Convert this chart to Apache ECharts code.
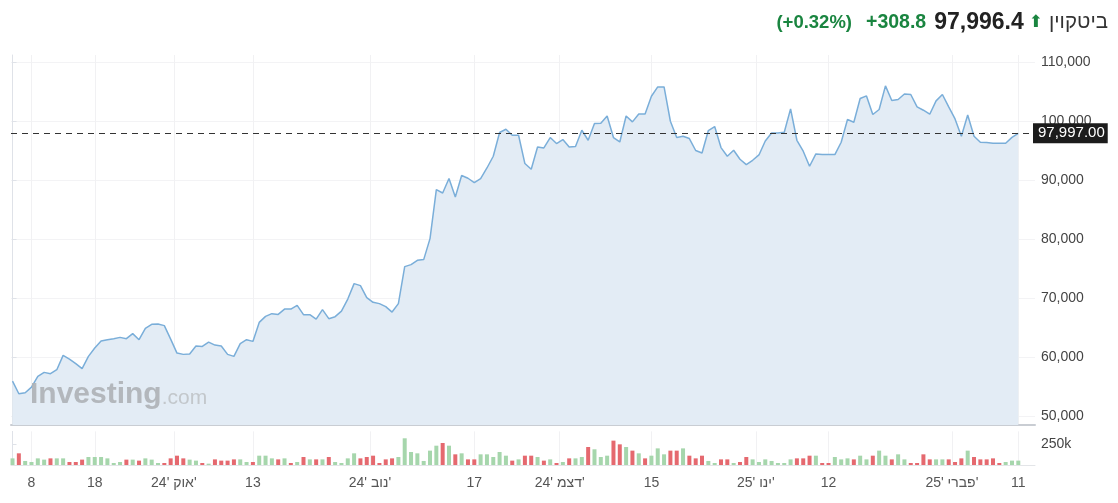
<!DOCTYPE html>
<html><head><meta charset="utf-8">
<script src="https://cdn.jsdelivr.net/npm/echarts@6/dist/echarts.min.js"></script>
<style>html,body{margin:0;padding:0;background:#fff}#c{width:1118px;height:503px}</style>
</head><body><div id="c"></div>
<script>
// ---- data ----
const startDate = '2024-09-05';
const prices = [
 56000,53860,54030,54980,56800,57480,57250,57930,60360,59730,
 58950,58100,60190,61600,62780,63020,63190,63410,63190,64040,
 63020,64940,65620,65670,65400,63120,60750,60530,60580,61940,
 61880,62610,62100,61940,60530,60190,62340,63020,62730,65950,
 66970,67430,67300,68210,68210,68840,67260,67260,66510,68110,
 66580,66920,67870,69910,72520,72180,70140,69350,69130,68620,
 67700,69130,75400,75740,76470,76590,80150,88460,87880,90330,
 87210,90840,90380,89650,90330,92120,94110,98130,98690,97670,
 97670,92870,91900,95690,95520,97280,96260,96940,95690,95750,
 98520,96820,99650,99700,100940,97280,96530,100940,99930,101280,
 101280,104280,105860,105860,100040,97280,97500,97110,95080,94670,
 98470,99150,95580,94110,95130,93600,92700,93430,94330,96700,
 98060,98060,98180,102130,96820,94960,92410,94500,94400,94400,
 94400,96480,100330,99880,103890,104340,101180,102030,106030,103550,
 103720,104670,104570,102470,101910,101230,103490,104570,102470,100430,
 97500,101110,97500,96480,96430,96310,96310,96310,97300,97996
];
const volumesK = [
 79,139,48,36,79,64,79,79,79,36,36,64,95,95,95,79,24,36,64,64,
 52,79,64,24,24,79,111,79,64,52,24,16,67,52,52,67,67,36,36,111,
 111,79,67,79,24,36,95,67,67,67,95,36,24,79,139,79,95,111,24,67,
 79,95,318,155,139,48,171,230,262,230,127,139,67,67,127,127,95,155,111,52,
 67,111,111,95,52,67,24,36,79,79,95,214,187,95,111,290,246,214,171,139,
 79,111,198,127,171,171,198,111,79,111,48,24,67,67,24,36,95,67,36,67,
 48,24,24,67,79,79,111,111,24,24,95,67,79,67,111,67,111,171,111,67,
 127,67,24,24,127,67,67,67,67,36,79,171,95,67,67,79,24,36,52,52
];
const volumeDir = [
 'u','d','u','u','u','u','d','u','u','d','d','d','u','u','u','u','u','u','d','u',
 'd','u','u','u','d','d','d','d','u','u','d','u','d','d','d','d','u','u','d','u',
 'u','u','d','u','d','u','d','u','d','u','d','u','u','u','u','d','d','d','d','d',
 'd','u','u','u','u','u','u','u','d','u','d','u','d','d','u','u','u','u','u','d',
 'u','d','d','u','d','u','d','u','d','u','u','d','u','u','u','d','d','u','d','u',
 'd','u','u','u','d','d','u','d','d','d','u','u','d','d','u','d','d','u','u','u',
 'u','u','u','u','d','d','d','u','d','d','u','u','u','d','u','u','d','u','u','d',
 'u','u','d','d','d','d','u','u','d','d','d','u','d','d','d','d','d','u','u','u'
];
const tickDates = ['2024-09-08','2024-09-18','2024-10-01','2024-10-13','2024-11-01','2024-11-17',
                   '2024-12-01','2024-12-15','2025-01-01','2025-01-12','2025-02-01','2025-02-11'];
const tickLabels = ['8','18',"24' אוק'",'13',"24' נוב'",'17',"24' דצמ'",'15',"25' ינו'",'12',"25' פברי'",'11'];
const priceTicks = [50000,60000,70000,80000,90000,100000,110000];
const volumeTicks = [250];
const lastPrice = 97997;
const headerName = 'ביטקוין';
const headerPrice = '97,996.4';
const headerChange = '+308.8';
const headerPct = '(+0.32%)';

// ---- derived ----
const DAY = 86400000;
const t0 = Date.parse(startDate + 'T00:00:00Z');
const dayIndex = d => Math.round((Date.parse(d + 'T00:00:00Z') - t0) / DAY);
// month-start ticks sit half a day earlier (at the boundary)
const tickIdx = tickDates.map(d => dayIndex(d) - (d.endsWith('-01') ? 0.5 : 0));
const labelMap = {};
tickIdx.forEach((v, i) => { labelMap[v] = tickLabels[i]; });

const GREEN = '#a6d6ac', RED = '#e5696f';
const font = 'Arial, "Liberation Sans", sans-serif';
const xMin = -0.24, xMax = prices.length - 1 + 2.64;

const chart = echarts.init(document.getElementById('c'), null, {renderer: 'canvas'});
chart.setOption({
  animation: false,
  backgroundColor: '#fff',
  textStyle: {fontFamily: font},
  grid: [
    {left: 11, right: 83, top: 55, height: 370},
    {left: 11, right: 83, top: 431.4, height: 33.6}
  ],
  xAxis: [
    {type: 'value', gridIndex: 0, min: xMin, max: xMax,
     axisLine: {show: true, onZero: false, lineStyle: {color: '#c9cdd3', width: 2}},
     axisTick: {show: false, customValues: tickIdx},
     axisLabel: {show: false, customValues: tickIdx},
     splitLine: {show: true, lineStyle: {color: '#f1f1f3', width: 1}}},
    {type: 'value', gridIndex: 1, min: xMin, max: xMax,
     axisLine: {show: true, onZero: false, lineStyle: {color: '#e3e5e8', width: 1}},
     axisTick: {show: false, customValues: tickIdx},
     axisLabel: {show: true, customValues: tickIdx, formatter: v => labelMap[v] || '',
                 color: '#555', fontSize: 14, margin: 11, fontFamily: font},
     splitLine: {show: true, lineStyle: {color: '#f1f1f3', width: 1}}}
  ],
  yAxis: [
    {type: 'value', gridIndex: 0, position: 'right', min: 48560, max: 111270,
     axisLine: {show: true, lineStyle: {color: '#dfe2e8'}},
     axisTick: {show: true, length: 4, lineStyle: {color: '#dfe2e8'}, customValues: priceTicks},
     axisLabel: {customValues: priceTicks, formatter: v => v.toLocaleString('en-US'),
                 color: '#444', fontSize: 14, margin: 6, fontFamily: font},
     splitLine: {show: true, lineStyle: {color: '#f3f3f5'}}},
    {type: 'value', gridIndex: 1, position: 'right', min: 0, max: 400,
     axisLine: {show: true, lineStyle: {color: '#dfe2e8'}},
     axisTick: {show: true, length: 4, lineStyle: {color: '#dfe2e8'}, customValues: volumeTicks},
     axisLabel: {customValues: volumeTicks, formatter: v => v + 'k',
                 color: '#444', fontSize: 14, margin: 6, fontFamily: font},
     splitLine: {show: false}}
  ],
  series: [
    {type: 'line', xAxisIndex: 0, yAxisIndex: 0, z: 3,
     data: prices.map((v, i) => [i, v]),
     symbol: 'none', smooth: false,
     lineStyle: {color: '#7aaed9', width: 1.5},
     areaStyle: {color: '#e3ecf5', opacity: 1, origin: 'start'},
     markLine: {
       silent: true, symbol: 'none', animation: false,
       lineStyle: {type: [6, 5], color: '#333', width: 1.2},
       label: {position: 'end', distance: -2,
               formatter: () => lastPrice.toLocaleString('en-US', {minimumFractionDigits: 2}),
               backgroundColor: '#1c1c1c', color: '#fff', fontSize: 15, fontFamily: font,
               padding: [3, 3, 2, 5]},
       data: [{yAxis: lastPrice}]
     }},
    {type: 'bar', xAxisIndex: 1, yAxisIndex: 1, barWidth: 4, clip: false,
     data: volumesK.map((v, i) => ({value: [i, v],
       itemStyle: {color: volumeDir[i] === 'u' ? GREEN : RED}}))}
  ],
  graphic: [
    {type: 'text', right: 10, top: 11, z: 20,
     style: {
       text: '{pct|' + headerPct + '}{chg|' + headerChange + '}{price|' + headerPrice + '}{arr|⬆}{name|' + headerName + '}',
       rich: {
         pct: {fontSize: 18.5, fontWeight: 'bold', fill: '#1a8540', fontFamily: font, padding: [0, 14, 0, 0]},
         chg: {fontSize: 19.5, fontWeight: 'bold', fill: '#1a8540', fontFamily: font, padding: [0, 8, 0, 0]},
         price: {fontSize: 23, fontWeight: 'bold', fill: '#222', fontFamily: font, padding: [0, 5, 0, 0]},
         arr: {fontSize: 17, fill: '#1a8540', fontFamily: 'DejaVu Sans', padding: [0, 6, 0, 0]},
         name: {fontSize: 20.5, fill: '#333', fontFamily: font}
       }
     }},
    {type: 'text', left: 30, top: 380, z: 20,
     style: {
       text: '{a|Investing}{b|.com}',
       opacity: 0.9,
       rich: {
         a: {fontSize: 30, fontWeight: 'bold', fill: '#adb1b6', fontFamily: font, letterSpacing: -1},
         b: {fontSize: 21, fill: '#bfc3c7', fontFamily: font, padding: [6, 0, 0, 0]}
       }
     }}
  ]
});
</script></body></html>
